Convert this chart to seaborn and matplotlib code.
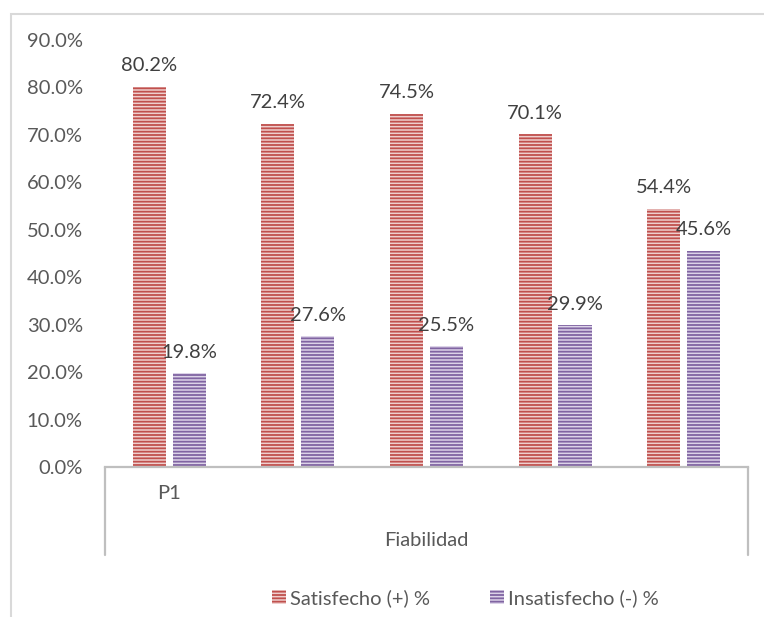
import matplotlib
matplotlib.use("Agg")  # headless
import pandas as pd
import matplotlib.pyplot as plt
import seaborn as sns
from matplotlib.patches import Patch, Rectangle
from matplotlib.lines import Line2D

# Data
preguntas = ["P1", "P2", "P3", "P4", "P5"]
etiquetas_x = ["P1", "", "", "", ""]
satisfecho = [80.2, 72.4, 74.5, 70.1, 54.4]
insatisfecho = [19.8, 27.6, 25.5, 29.9, 45.6]
series = ["Satisfecho (+) %", "Insatisfecho (-) %"]
dimension = "Fiabilidad"
yticks = [0, 10, 20, 30, 40, 50, 60, 70, 80, 90]

# Colours: light fill + dark stripes (Excel style pattern)
relleno = ["#EFCFCE", "#DCD3E8"]
rayas = ["#C0504D", "#8064A2"]
FS = 14.5

df = pd.DataFrame({
    "pregunta": preguntas * 2,
    "valor": satisfecho + insatisfecho,
    "serie": [series[0]] * len(preguntas) + [series[1]] * len(preguntas),
})

sns.set_style("white")
plt.rcParams["font.family"] = ["Lato", "DejaVu Sans"]
plt.rcParams["hatch.linewidth"] = 1.3

fig = plt.figure(figsize=(7.64, 6.17), dpi=100)
ax = fig.add_axes([0.1374, 0.2431, 0.8416, 0.692])

sns.barplot(data=df, x="pregunta", y="valor", hue="serie", order=preguntas,
            hue_order=series, palette=relleno, saturation=1, width=0.62,
            gap=0.17, legend=False, ax=ax)

for cont, dark in zip(ax.containers, rayas):
    for bar in cont:
        bar.set_hatch("-----")
        bar.set_edgecolor(dark)
        bar.set_linewidth(0)
    ax.bar_label(cont, fmt="%.1f%%", padding=9, fontsize=FS, color="#404040")

ax.set_xlim(-0.5, 4.5)
ax.set_ylim(0, 90)
ax.set_yticks(yticks)
ax.set_yticklabels([f"{v:.1f}%" for v in yticks], fontsize=FS, color="#595959")
ax.set_xticks(range(len(preguntas)))
ax.set_xticklabels(etiquetas_x, fontsize=FS, color="#595959")
ax.tick_params(axis="y", length=0, pad=16)
ax.tick_params(axis="x", length=0, pad=13)
ax.set_xlabel("")
ax.set_ylabel("")

for s in ["top", "right", "left"]:
    ax.spines[s].set_visible(False)
ax.spines["bottom"].set_color("#BFBFBF")
ax.spines["bottom"].set_linewidth(1.6)

# multi-level category box
for xv in [0, 1]:
    ax.add_line(Line2D([xv, xv], [0, -0.206], transform=ax.transAxes,
                       color="#BFBFBF", lw=1.6, clip_on=False))
ax.text(0.5, -0.171, dimension, transform=ax.transAxes, ha="center",
        va="center", fontsize=FS, color="#595959")

# chart border (only top/left visible)
fig.patches.append(Rectangle((0.0144, -0.1), 1.2, 1.0774, transform=fig.transFigure,
                             fill=False, edgecolor="#D9D9D9", lw=1.5))

handles = [Patch(facecolor=f, edgecolor=d, hatch="-----", lw=0)
           for f, d in zip(relleno, rayas)]
fig.legend(handles, series, loc="center", bbox_to_anchor=(0.609, 0.031), ncol=2,
           frameon=False, fontsize=FS, labelcolor="#595959", handlelength=0.7,
           handleheight=0.7, handletextpad=0.2, columnspacing=3.0)

plt.savefig("out.png", dpi=100)
plt.close()
